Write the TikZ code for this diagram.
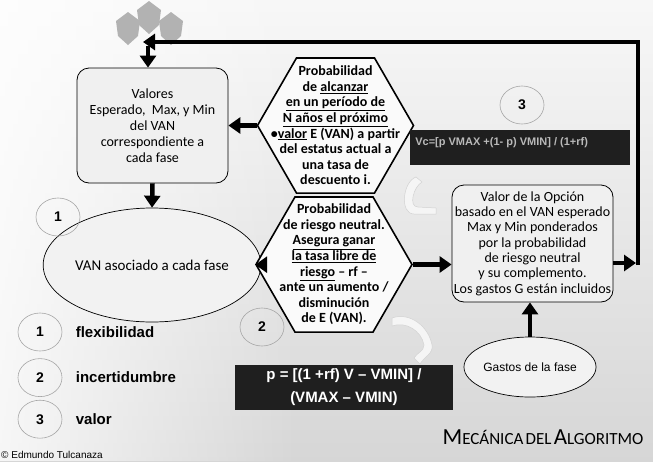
\documentclass[tikz,border=0pt]{standalone}
\usepackage{fontspec}
\setmainfont{Carlito}
\newfontfamily\arial{Liberation Sans}
\usetikzlibrary{positioning,arrows.meta,shapes.geometric,fadings}
\tikzstyle{box}=[draw, line width=0.8pt, rounded corners=12pt, fill=gray!12, align=center, font=\fontsize{14}{16}\selectfont]
\tikzstyle{hexa}=[draw, line width=1.6pt, fill=gray!4, regular polygon, regular polygon sides=6, minimum size=156pt, inner sep=0pt]
\tikzstyle{hextext}=[align=center, inner sep=0pt, font=\bfseries\fontsize{14}{15.6}\selectfont]
\tikzstyle{oval}=[draw, line width=0.7pt, ellipse, fill=gray!10, align=center, inner sep=0pt]
\tikzstyle{numcirc}=[draw=gray!70, line width=0.6pt, ellipse, minimum width=44pt, minimum height=38pt, font=\arial\bfseries\fontsize{14}{14}\selectfont]
\tikzstyle{formula}=[fill=black!88, align=center]
\tikzstyle{flow}=[line width=4.5pt, ->]
\tikzstyle{legend}=[font=\arial\bfseries\fontsize{15}{15}\selectfont]
\tikzstyle{swirl}=[draw=gray!35, fill=gray!8, line width=0.5pt]
\newcommand{\tcap}[1]{{\fontsize{23}{23}\selectfont #1}}
\newcommand{\tsc}[1]{{\fontsize{17}{17}\selectfont #1}}

\begin{document}
\begin{tikzpicture}[x=1pt, y=-1pt, >={Triangle[length=12pt,width=16pt]}]
	\useasboundingbox (0,0) rectangle (653,461);
	% backdrop
	\shade[top color=gray!6, bottom color=gray!32] (0,0) rectangle (653,461);
	\fill[white, path fading=east, opacity=0.8] (0,0) rectangle (300,461);
	% crest
	\foreach \cx/\cy in {128/28, 171/28, 149/17}
		\fill[gray!60] (\cx,\cy-16) -- (\cx+12,\cy-7) -- (\cx+10,\cy+8) -- (\cx,\cy+17) -- (\cx-10,\cy+8) -- (\cx-12,\cy-7) -- cycle;
	% faint swirls
	\path[swirl] (416,177) to[out=200,in=180] (414,214) -- (436,214) -- (436,208) -- (418,207) to[out=180,in=210] (422,182) -- cycle;
	\path[swirl] (392,318) to[out=20,in=100] (432,345) to[out=280,in=60] (420,364) -- (414,358) to[out=60,in=270] (424,345) to[out=100,in=20] (392,326) -- cycle;

	\node[box, minimum width=151pt, minimum height=115pt] (val) at (152.5,125.5) {Valores\\ Esperado,\ \ Max, y Min\\ del VAN\\ correspondiente a\\ cada fase};
	\node[oval, minimum width=158pt, minimum height=114pt, font=\fontsize{15}{16}\selectfont] (van) at (152,265) {VAN asociado a cada fase};
	\node[hexa] (alc) at (335.5,125.5) {};
	\node[hextext] at (alc) {Probabilidad\\ de \underline{alcanzar}\\ \underline{en un período de}\\ \underline{N años el próximo}\\ •\underline{valor} E (VAN) a partir\\ del estatus actual a\\ una tasa de\\ descuento i.};
	\node[hexa] (neu) at (334,264.5) {};
	\node[hextext] at (neu) {Probabilidad\\ de riesgo neutral.\\ \underline{Asegura ganar}\\ \underline{la tasa libre de}\\ \underline{riesgo} – rf –\\ ante un aumento /\\ disminución\\ de E (VAN).};
	\node[box, minimum width=161pt, minimum height=117pt, inner sep=1pt, font=\fontsize{14}{15.3}\selectfont] (opt) at (532.5,243.5) {Valor de la Opción\\ basado en el VAN esperado\\ Max y Min ponderados\\ por la probabilidad\\ de riesgo neutral\\ y su complemento.\\ Los gastos G están incluidos};
	\node[oval, minimum width=112pt, minimum height=60pt, font=\arial\fontsize{12}{12}\selectfont] (gas) at (530,367) {Gastos de la fase};

	\node[formula, minimum width=220pt, minimum height=35pt] (vc) at (520,147) {};
	\node[anchor=west, text=gray!55, font=\arial\bfseries\fontsize{11}{11}\selectfont] at ([xshift=2pt,yshift=4pt]vc.west) {Vc=[p VMAX +(1- p) VMIN] / (1+rf)};
	\node[formula, text=white, minimum width=218pt, minimum height=45pt, font=\arial\bfseries\fontsize{15}{23}\selectfont] (pform) at (344,387.5) {p = [(1 +rf) V – VMIN] /\\ (VMAX – VMIN)};

	\node[numcirc] (c1) at (58,217) {1};
	\node[numcirc] (c2) at (262,327) {2};
	\node[numcirc] (c3) at (522,105) {3};
	\node[numcirc] (n1) at (40,332) {1};
	\node[numcirc, below=7pt of n1] (n2) {2};
	\node[numcirc, below=3pt of n2] (n3) {3};
	\node[legend, right=10pt of n1] {flexibilidad};
	\node[legend, right=10pt of n2] {incertidumbre};
	\node[legend, right=10pt of n3] {valor};

	\node[anchor=east] (title) at (647,437) {\tcap{M}\tsc{ECÁNICA} \tsc{DEL} \tcap{A}\tsc{LGORITMO}};
	\node[anchor=west, inner sep=1pt, font=\arial\fontsize{10}{10}\selectfont] (copy) at (0,455) {© Edmundo Tulcanaza};

	% connectors
	\coordinate (railin) at (636,263);
	\coordinate (rail) at (638,265);
	\coordinate (crest) at (143,42);
	\coordinate (drop) at (148,46);
	\draw[flow] (val.south) -- (van.north);
	\draw[flow] (alc.west) -- (alc.west -| val.east);
	\draw[flow] (van) -- (neu);
	\draw[flow] (neu.east) -- (neu.east -| opt.west);
	\draw[flow] (opt.east |- railin) -- (railin);
	\draw[flow] (rail) |- (crest);
	\draw[flow] (drop) -- (drop |- val.north);
	\draw[flow] (gas.north) -- (gas.north |- opt.south);
\end{tikzpicture}
\end{document}
